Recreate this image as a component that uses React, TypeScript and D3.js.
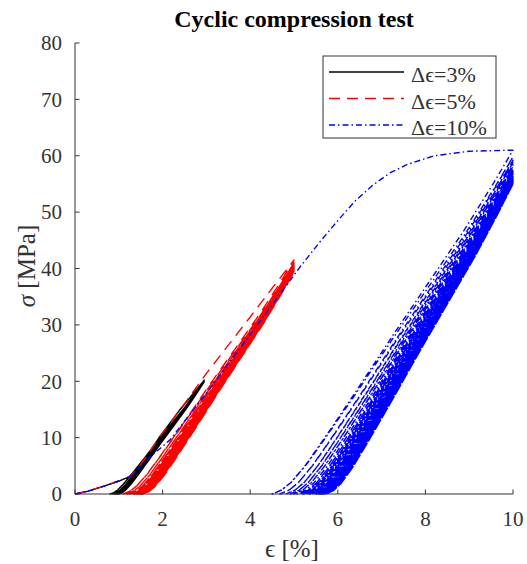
import React from "react";
import * as d3 from "d3";

const W = 527;
const H = 564;

const titleText = "Cyclic compression test";
const xLabel = "ϵ [%]";
const yLabelSymbol = "σ";
const yLabelUnit = " [MPa]";
const xTicks = [0, 2, 4, 6, 8, 10];
const yTicks = [0, 10, 20, 30, 40, 50, 60, 70, 80];
const legendLabels = ["Δϵ=3%", "Δϵ=5%", "Δϵ=10%"];
const seriesColors = ["#000000", "#ff0000", "#0000ff"];

// normalised unload / reload shape (u: strain fraction, v: stress fraction)
const shapeU = [0, 0.04, 0.08, 0.14, 0.22, 0.35, 0.5, 0.65, 0.8, 0.92, 1];
const shapeV = [0, 0.012, 0.035, 0.085, 0.165, 0.3, 0.46, 0.615, 0.77, 0.905, 1];

// Δϵ = 3 %
const blackLoadStrain = [0, 0.3, 0.7, 1.0, 1.25, 1.5, 1.94, 2.4, 2.95];
const blackLoadStress = [0, 0.5, 1.5, 2.3, 3.1, 5.2, 10.2, 15.0, 20.2];
const blackMaxStrain = 2.95;
const blackResidual = [0.8, 0.86, 0.9, 0.92, 0.94, 0.95, 0.96, 0.97, 0.98, 0.99, 1.0, 1.0];
const blackPeaks = [20.2, 20.1, 20.1, 20.0, 20.0, 20.0, 20.0, 19.9, 19.9, 19.9, 19.9, 19.9, 19.9];

// Δϵ = 5 %
const redLoadStrain = [0, 0.3, 0.7, 1.0, 1.25, 1.5, 1.94, 2.5, 3.0, 3.5, 4.0, 4.5, 5.0];
const redLoadStress = [0, 0.5, 1.5, 2.3, 3.1, 5.2, 10.2, 16.0, 21.4, 26.4, 31.4, 36.5, 41.5];
const redMaxStrain = 5.0;
const redResidual = [
  1.1, 1.18, 1.24, 1.28, 1.31, 1.34, 1.36, 1.38, 1.4, 1.41, 1.42, 1.43, 1.44, 1.45, 1.46,
  1.47, 1.48, 1.49, 1.49, 1.5, 1.51, 1.51, 1.52, 1.53, 1.53, 1.54, 1.54, 1.55, 1.55, 1.56,
];
const redPeaks = [
  41.5, 41.0, 40.8, 40.6, 40.5, 40.4, 40.3, 40.2, 40.2, 40.1, 40.1, 40.0, 40.0, 40.0, 39.9, 39.9,
  39.9, 39.8, 39.8, 39.8, 39.7, 39.7, 39.7, 39.6, 39.6, 39.6, 39.5, 39.5, 39.5, 39.4, 39.4,
];

// Δϵ = 10 %
const blueLoadStrain = [0, 0.3, 0.7, 1.0, 1.25, 1.6, 2.17, 3.0, 4.0, 4.6, 5.14, 5.6, 6.0, 6.4, 6.8, 7.2, 7.6, 8.2, 9.0, 10.0];
const blueLoadStress = [0, 0.5, 1.5, 2.3, 3.1, 5.8, 9.6, 17.9, 28.3, 34.6, 40.3, 44.8, 48.5, 52.0, 54.8, 57.0, 58.5, 60.0, 60.8, 61.0];
const blueMaxStrain = 10.0;
const blueResidual = [
  4.5, 4.68, 4.82, 4.92, 5.0, 5.07, 5.13, 5.18, 5.22, 5.26, 5.3, 5.33, 5.36, 5.39, 5.41, 5.43,
  5.45, 5.47, 5.49, 5.51, 5.53, 5.54, 5.56, 5.57, 5.58, 5.6, 5.61, 5.62, 5.63, 5.64, 5.65, 5.66,
  5.67, 5.68, 5.69, 5.7, 5.71, 5.72, 5.73, 5.74,
];
const bluePeaks = [
  61.0, 59.8, 59.2, 58.8, 58.4, 58.1, 57.9, 57.7, 57.5, 57.3, 57.2, 57.0, 56.9, 56.8, 56.7, 56.6,
  56.5, 56.4, 56.3, 56.2, 56.1, 56.0, 55.9, 55.9, 55.8, 55.7, 55.7, 55.6, 55.6, 55.5, 55.5, 55.4,
  55.4, 55.3, 55.3, 55.2, 55.2, 55.1, 55.1, 55.0, 55.0,
];

type Pt = [number, number];

function buildSeries(
  loadStrain: number[],
  loadStress: number[],
  maxStrain: number,
  residual: number[],
  peaks: number[]
): Pt[] {
  const pts: Pt[] = loadStrain.map((s, i) => [s, loadStress[i]] as Pt);
  residual.forEach((e0, i) => {
    const span = maxStrain - e0;
    for (let k = shapeU.length - 1; k >= 0; k--) {
      pts.push([e0 + shapeU[k] * span, shapeV[k] * peaks[i]]);
    }
    const next = peaks[i + 1];
    if (next !== undefined) {
      for (let k = 1; k < shapeU.length; k++) {
        pts.push([e0 + shapeU[k] * span, shapeV[k] * next]);
      }
    }
  });
  return pts;
}

const FONT = "'Liberation Serif', 'Times New Roman', 'DejaVu Serif', serif";
const AXIS = "#333333";

export default function App() {
  const x = d3.scaleLinear().domain([0, 10]).range([75, 513]);
  const y = d3.scaleLinear().domain([0, 80]).range([494, 43]);
  const line = d3.line<Pt>().x((d) => x(d[0])).y((d) => y(d[1]));

  const series = [
    { pts: buildSeries(blackLoadStrain, blackLoadStress, blackMaxStrain, blackResidual, blackPeaks), dash: "none" },
    { pts: buildSeries(redLoadStrain, redLoadStress, redMaxStrain, redResidual, redPeaks), dash: "11 7" },
    { pts: buildSeries(blueLoadStrain, blueLoadStress, blueMaxStrain, blueResidual, bluePeaks), dash: "6 3 1.5 3" },
  ];

  const lgX = 323, lgY = 56, lgW = 173, lgH = 82;

  return (
    <svg width={W} height={H} style={{ position: "absolute", left: 0, top: 0, background: "#fff" }} fontFamily={FONT}>
      <rect x={0} y={0} width={W} height={H} fill="#fff" />
      <text x={294} y={27} textAnchor="middle" fontSize={24} fontWeight="bold" fill="#000">
        {titleText}
      </text>

      {series.map((s, i) => (
        <path
          key={i}
          d={line(s.pts) || ""}
          fill="none"
          stroke={seriesColors[i]}
          strokeWidth={1.4}
          strokeDasharray={s.dash}
          strokeLinejoin="round"
        />
      ))}

      {/* axes */}
      <line x1={x(0)} x2={x(10)} y1={y(0)} y2={y(0)} stroke={AXIS} strokeWidth={1} />
      <line x1={x(0)} x2={x(0)} y1={y(0)} y2={y(80)} stroke={AXIS} strokeWidth={1} />
      {xTicks.map((t) => (
        <g key={"x" + t}>
          <line x1={x(t)} x2={x(t)} y1={y(0)} y2={y(0) - 4.5} stroke={AXIS} strokeWidth={1} />
          <text x={x(t)} y={526} textAnchor="middle" fontSize={21} fill={AXIS}>
            {t}
          </text>
        </g>
      ))}
      {yTicks.map((t) => (
        <g key={"y" + t}>
          <line x1={x(0)} x2={x(0) + 4.5} y1={y(t)} y2={y(t)} stroke={AXIS} strokeWidth={1} />
          <text x={62} y={y(t)} dy="0.35em" textAnchor="end" fontSize={21} fill={AXIS}>
            {t}
          </text>
        </g>
      ))}
      <text x={292} y={557} textAnchor="middle" fontSize={25} fill={AXIS}>
        {xLabel}
      </text>
      <text transform="translate(35,266) rotate(-90)" textAnchor="middle" fontSize={25} fill={AXIS}>
        <tspan fontStyle="italic">{yLabelSymbol}</tspan>
        <tspan>{yLabelUnit}</tspan>
      </text>

      {/* legend */}
      <rect x={lgX} y={lgY} width={lgW} height={lgH} fill="#fff" stroke={AXIS} strokeWidth={1} />
      {legendLabels.map((lab, i) => {
        const ly = 72 + i * 26.5;
        return (
          <g key={lab}>
            <line
              x1={329}
              x2={404}
              y1={ly}
              y2={ly}
              stroke={seriesColors[i]}
              strokeWidth={1.3}
              strokeDasharray={series[i].dash}
            />
            <text x={411} y={ly + 10} fontSize={22} fill={AXIS}>
              {lab}
            </text>
          </g>
        );
      })}
    </svg>
  );
}
